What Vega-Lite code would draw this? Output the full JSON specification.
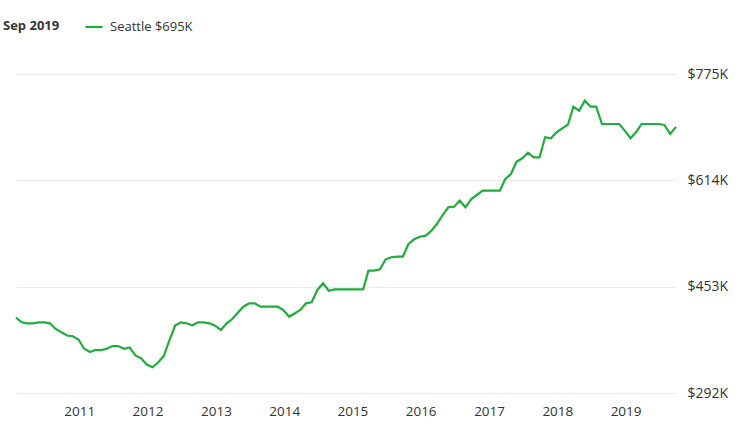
{
  "$schema": "https://vega.github.io/schema/vega-lite/v6.json",
  "width": 660,
  "height": 319,
  "autosize": {"type": "none"},
  "padding": {"left": 16, "top": 74, "right": 63, "bottom": 47},
  "background": "white",
  "config": {
    "view": {"stroke": null},
    "font": "Open Sans"
  },
  "data": {
    "values": [
      {"date": "2010/01/01", "value": 406},
      {"date": "2010/02/01", "value": 399},
      {"date": "2010/03/01", "value": 397.5},
      {"date": "2010/04/01", "value": 397.5},
      {"date": "2010/05/01", "value": 399},
      {"date": "2010/06/01", "value": 399},
      {"date": "2010/07/01", "value": 397.5},
      {"date": "2010/08/01", "value": 389},
      {"date": "2010/09/01", "value": 384},
      {"date": "2010/10/01", "value": 379},
      {"date": "2010/11/01", "value": 378},
      {"date": "2010/12/01", "value": 373},
      {"date": "2011/01/01", "value": 359},
      {"date": "2011/02/01", "value": 354},
      {"date": "2011/03/01", "value": 357},
      {"date": "2011/04/01", "value": 357},
      {"date": "2011/05/01", "value": 359},
      {"date": "2011/06/01", "value": 363},
      {"date": "2011/07/01", "value": 363},
      {"date": "2011/08/01", "value": 359},
      {"date": "2011/09/01", "value": 361},
      {"date": "2011/10/01", "value": 349},
      {"date": "2011/11/01", "value": 344.5},
      {"date": "2011/12/01", "value": 335},
      {"date": "2012/01/01", "value": 331},
      {"date": "2012/02/01", "value": 338.5},
      {"date": "2012/03/01", "value": 348},
      {"date": "2012/04/01", "value": 372},
      {"date": "2012/05/01", "value": 394},
      {"date": "2012/06/01", "value": 399},
      {"date": "2012/07/01", "value": 397.5},
      {"date": "2012/08/01", "value": 394.5},
      {"date": "2012/09/01", "value": 399},
      {"date": "2012/10/01", "value": 399},
      {"date": "2012/11/01", "value": 397.5},
      {"date": "2012/12/01", "value": 394},
      {"date": "2013/01/01", "value": 387.4},
      {"date": "2013/02/01", "value": 397.5},
      {"date": "2013/03/01", "value": 403.6},
      {"date": "2013/04/01", "value": 413.6},
      {"date": "2013/05/01", "value": 422.7},
      {"date": "2013/06/01", "value": 427.8},
      {"date": "2013/07/01", "value": 427.8},
      {"date": "2013/08/01", "value": 422.7},
      {"date": "2013/09/01", "value": 422.7},
      {"date": "2013/10/01", "value": 422.7},
      {"date": "2013/11/01", "value": 422.7},
      {"date": "2013/12/01", "value": 417.7},
      {"date": "2014/01/01", "value": 407.5},
      {"date": "2014/02/01", "value": 412.7},
      {"date": "2014/03/01", "value": 417.7},
      {"date": "2014/04/01", "value": 427.8},
      {"date": "2014/05/01", "value": 429.3},
      {"date": "2014/06/01", "value": 448},
      {"date": "2014/07/01", "value": 458.1},
      {"date": "2014/08/01", "value": 446.9},
      {"date": "2014/09/01", "value": 449},
      {"date": "2014/10/01", "value": 449},
      {"date": "2014/11/01", "value": 449},
      {"date": "2014/12/01", "value": 449},
      {"date": "2015/01/01", "value": 449},
      {"date": "2015/02/01", "value": 449},
      {"date": "2015/03/01", "value": 477.2},
      {"date": "2015/04/01", "value": 477.2},
      {"date": "2015/05/01", "value": 479.3},
      {"date": "2015/06/01", "value": 494.4},
      {"date": "2015/07/01", "value": 497.5},
      {"date": "2015/08/01", "value": 498.4},
      {"date": "2015/09/01", "value": 498.4},
      {"date": "2015/10/01", "value": 517.6},
      {"date": "2015/11/01", "value": 524.7},
      {"date": "2015/12/01", "value": 528.6},
      {"date": "2016/01/01", "value": 530.2},
      {"date": "2016/02/01", "value": 537.7},
      {"date": "2016/03/01", "value": 547.9},
      {"date": "2016/04/01", "value": 561.5},
      {"date": "2016/05/01", "value": 573.2},
      {"date": "2016/06/01", "value": 574.1},
      {"date": "2016/07/01", "value": 583.2},
      {"date": "2016/08/01", "value": 573.2},
      {"date": "2016/09/01", "value": 585.7},
      {"date": "2016/10/01", "value": 591.8},
      {"date": "2016/11/01", "value": 598.3},
      {"date": "2016/12/01", "value": 598.3},
      {"date": "2017/01/01", "value": 598.3},
      {"date": "2017/02/01", "value": 598.3},
      {"date": "2017/03/01", "value": 615.6},
      {"date": "2017/04/01", "value": 623.6},
      {"date": "2017/05/01", "value": 642.2},
      {"date": "2017/06/01", "value": 647.4},
      {"date": "2017/07/01", "value": 655.8},
      {"date": "2017/08/01", "value": 648.9},
      {"date": "2017/09/01", "value": 648.9},
      {"date": "2017/10/01", "value": 679.2},
      {"date": "2017/11/01", "value": 677.6},
      {"date": "2017/12/01", "value": 686.7},
      {"date": "2018/01/01", "value": 692.8},
      {"date": "2018/02/01", "value": 698.8},
      {"date": "2018/03/01", "value": 725.5},
      {"date": "2018/04/01", "value": 719.4},
      {"date": "2018/05/01", "value": 734.6},
      {"date": "2018/06/01", "value": 725.5},
      {"date": "2018/07/01", "value": 725.5},
      {"date": "2018/08/01", "value": 699.3},
      {"date": "2018/09/01", "value": 699.3},
      {"date": "2018/10/01", "value": 699.3},
      {"date": "2018/11/01", "value": 699.3},
      {"date": "2018/12/01", "value": 689.2},
      {"date": "2019/01/01", "value": 677.6},
      {"date": "2019/02/01", "value": 687.6},
      {"date": "2019/03/01", "value": 699.3},
      {"date": "2019/04/01", "value": 699.3},
      {"date": "2019/05/01", "value": 699.3},
      {"date": "2019/06/01", "value": 699.3},
      {"date": "2019/07/01", "value": 697.8},
      {"date": "2019/08/01", "value": 684.2},
      {"date": "2019/09/01", "value": 695}
    ]
  },
  "mark": {"type": "line", "strokeWidth": 2.2, "interpolate": "linear"},
  "encoding": {
    "x": {
      "field": "date",
      "type": "temporal",
      "scale": {"nice": false},
      "axis": {
        "title": null,
        "format": "%Y",
        "values": [
          {"year": 2011, "month": 1, "date": 1},
          {"year": 2012, "month": 1, "date": 1},
          {"year": 2013, "month": 1, "date": 1},
          {"year": 2014, "month": 1, "date": 1},
          {"year": 2015, "month": 1, "date": 1},
          {"year": 2016, "month": 1, "date": 1},
          {"year": 2017, "month": 1, "date": 1},
          {"year": 2018, "month": 1, "date": 1},
          {"year": 2019, "month": 1, "date": 1}
        ],
        "grid": false,
        "domain": false,
        "ticks": false,
        "labelFontSize": 13.5,
        "labelColor": "#333333",
        "labelPadding": 11,
        "labelOffset": -5,
        "labelOverlap": false
      }
    },
    "y": {
      "field": "value",
      "type": "quantitative",
      "scale": {"domain": [292, 775], "nice": false, "zero": false},
      "axis": {
        "orient": "right",
        "title": null,
        "values": [292, 453, 614, 775],
        "labelExpr": "'$' + datum.value + 'K'",
        "grid": true,
        "gridColor": "#ebebeb",
        "gridWidth": 1,
        "domain": false,
        "ticks": false,
        "labelFontSize": 14,
        "labelColor": "#333333",
        "labelPadding": 11
      }
    },
    "color": {
      "datum": "Seattle $695K",
      "type": "nominal",
      "scale": {"range": ["#1fad3c"]},
      "legend": {
        "title": "Sep 2019",
        "orient": "none",
        "legendX": -13,
        "legendY": -57,
        "direction": "horizontal",
        "titleOrient": "left",
        "titleFontSize": 13,
        "titleFontWeight": "bold",
        "titleColor": "#333333",
        "titlePadding": 24,
        "titleBaseline": "middle",
        "symbolType": "stroke",
        "symbolSize": 289,
        "symbolStrokeWidth": 2.2,
        "labelFontSize": 13,
        "labelColor": "#333333",
        "labelOffset": 6,
        "padding": 0
      }
    }
  }
}
